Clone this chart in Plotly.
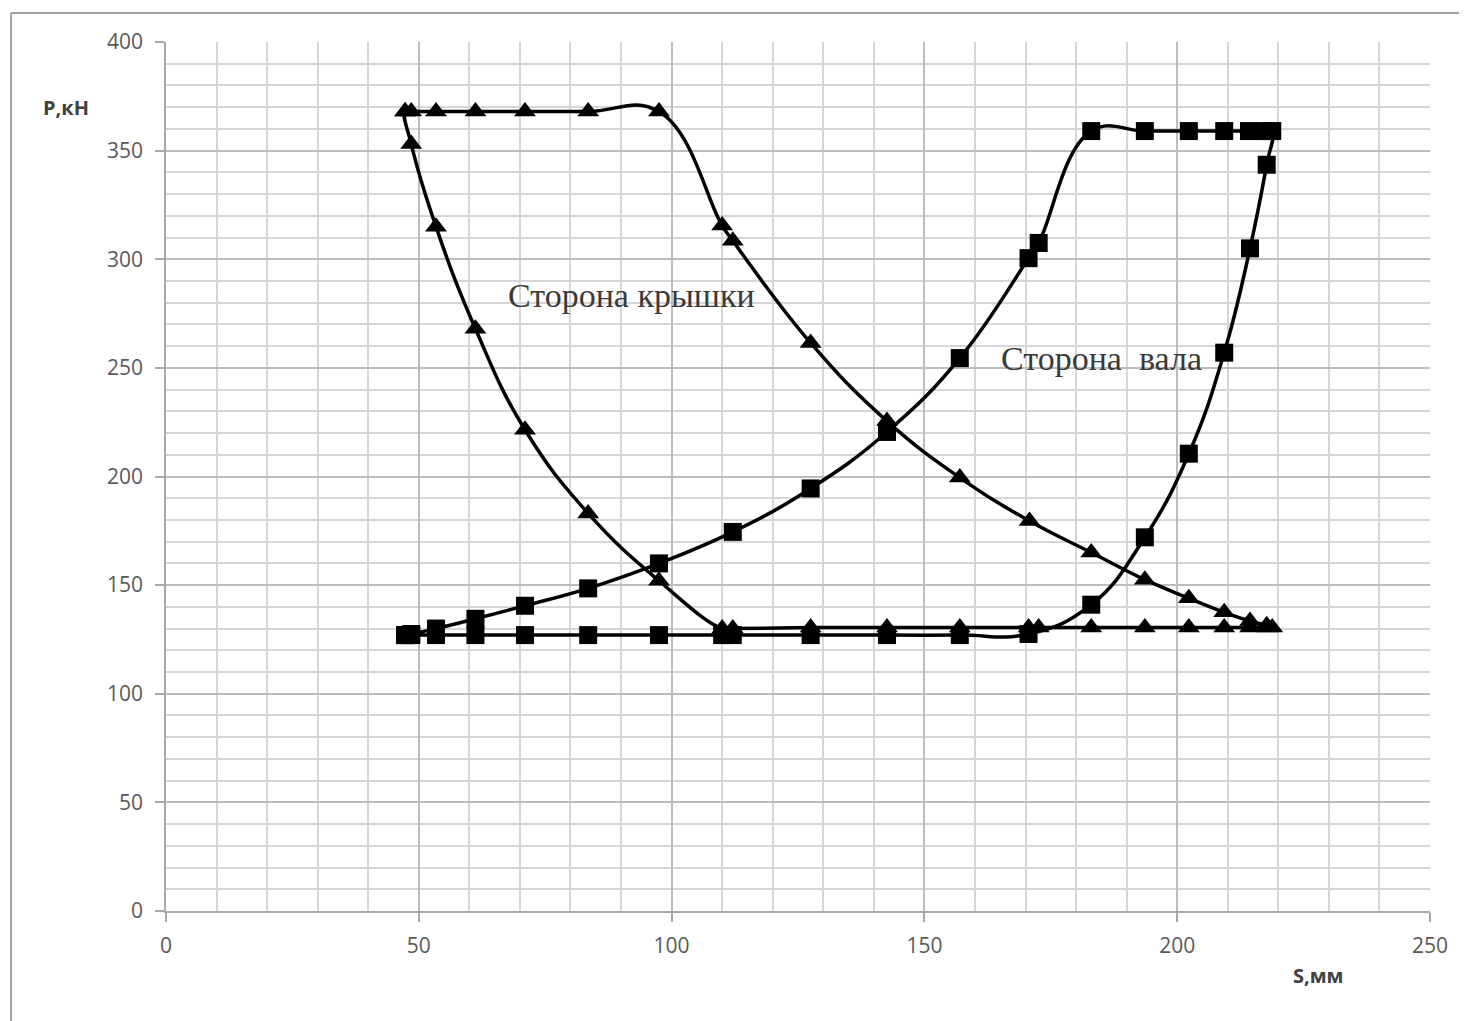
import plotly.graph_objects as go

# Сторона крышки (triangles) - closed loop, in drawing order
kr_s = [47.3, 48.5, 53.4, 61.2, 71.0, 83.5, 97.5,
        110.0, 112.1, 127.5, 142.6, 157.0, 170.8, 183.0, 193.6, 202.3, 209.3, 214.4, 217.7, 218.8,
        217.7, 214.4, 209.3, 202.3, 193.6, 183.0, 172.6, 170.6, 157.0, 142.6, 127.5, 112.1, 110.0,
        97.5, 83.5, 71.0, 61.2, 53.4, 48.5, 47.3]
kr_p = [368, 368, 368, 368, 368, 368, 368,
        315.5, 308.5, 261.5, 225.5, 199.5, 179.5, 165, 152.5, 144, 137.5, 133.5, 131.5, 130.5,
        130.5, 130.5, 130.5, 130.5, 130.5, 130.5, 130.5, 130.5, 130.5, 130.5, 130.5, 130, 130,
        152, 183, 221.5, 268, 315, 353, 368]

# Сторона вала (squares) - closed loop, in drawing order
val_s = [47.3, 48.5, 53.4, 61.2, 71.0, 83.5, 97.5, 110.0, 112.1, 127.5, 142.6, 157.0, 170.6,
         183.0, 193.6, 202.3, 209.3, 214.4, 217.7, 218.8,
         217.4, 214.2, 209.3, 202.3, 193.6, 183.0,
         172.6, 170.6, 157.0, 142.6, 127.5, 112.1, 97.5, 83.5, 71.0, 61.2, 53.4, 48.5, 47.3]
val_p = [127, 127, 127, 127, 127, 127, 127, 127, 127, 127, 127, 127, 127.5,
         141, 172, 210.5, 257, 305, 343.5, 359,
         359, 359, 359, 359, 359, 359,
         307.5, 300.5, 254.5, 220.5, 194.5, 174.5, 160, 148.5, 140.5, 134.5, 130, 127.5, 127]

x_ticks = [0, 50, 100, 150, 200, 250]
y_ticks = [0, 50, 100, 150, 200, 250, 300, 350, 400]

label_kr = "Сторона крышки"
label_val = "Сторона  вала"

fig = go.Figure()
fig.add_trace(go.Scatter(
    x=kr_s, y=kr_p, mode="lines+markers",
    line=dict(color="black", width=3.5, shape="spline", smoothing=1.25),
    marker=dict(symbol="triangle-up", size=19, color="black"),
    showlegend=False))
fig.add_trace(go.Scatter(
    x=val_s, y=val_p, mode="lines+markers",
    line=dict(color="black", width=3.5, shape="spline", smoothing=1.25),
    marker=dict(symbol="square", size=18, color="black"),
    showlegend=False))

fig.add_annotation(x=92, y=283.5, text=label_kr, showarrow=False,
                   font=dict(family="Liberation Serif", size=34, color="#3a3a3a"))
fig.add_annotation(x=185, y=254.5, text=label_val, showarrow=False,
                   font=dict(family="Liberation Serif", size=34, color="#3a3a3a"))

fig.add_annotation(xref="paper", yref="paper", x=(66 - 166) / 1264, y=(911 - 108) / 869,
                   xanchor="center", yanchor="middle",
                   text="<b>P,кН</b>", showarrow=False,
                   font=dict(family="Open Sans", size=20, color="#404040"))
fig.add_annotation(xref="paper", yref="paper", x=(1318 - 166) / 1264, y=(911 - 975) / 869,
                   xanchor="center", yanchor="middle",
                   text="<b>S,мм</b>", showarrow=False,
                   font=dict(family="Open Sans", size=20, color="#404040"))

# outer frame (left and top edges visible)
fig.add_shape(type="line", xref="paper", yref="paper",
              x0=(11 - 166) / 1264, x1=(11 - 166) / 1264,
              y0=(911 - 1040) / 869, y1=(911 - 13) / 869,
              line=dict(color="#a0a0a0", width=2))
fig.add_shape(type="line", xref="paper", yref="paper",
              x0=(11 - 166) / 1264, x1=(1490 - 166) / 1264,
              y0=(911 - 13) / 869, y1=(911 - 13) / 869,
              line=dict(color="#a0a0a0", width=2))

axis_common = dict(showgrid=True, gridcolor="#bdbdbd", gridwidth=1.5,
                   ticks="outside", ticklen=9, tickcolor="#a8a8a8", tickwidth=1.5,
                   showline=True, linecolor="#a8a8a8", linewidth=1.5, zeroline=False,
                   tickfont=dict(family="Open Sans", size=21, color="#595959"))
fig.update_xaxes(range=[0, 250], tickvals=x_ticks, ticklabelstandoff=6,
                 minor=dict(dtick=10, showgrid=True, gridcolor="#d6d6d6", gridwidth=1.5, ticks=""),
                 **axis_common)
fig.update_yaxes(range=[0, 400], tickvals=y_ticks, ticklabelstandoff=8,
                 minor=dict(dtick=10, showgrid=True, gridcolor="#d6d6d6", gridwidth=1.5, ticks=""),
                 **axis_common)

# page body has an 8px offset; compensate so the plot area sits at (166..1430, 42..911)
fig.update_layout(width=1467, height=1021, margin=dict(l=158, r=45, t=34, b=118),
                  paper_bgcolor="white", plot_bgcolor="white")

fig.write_html("out.html")
